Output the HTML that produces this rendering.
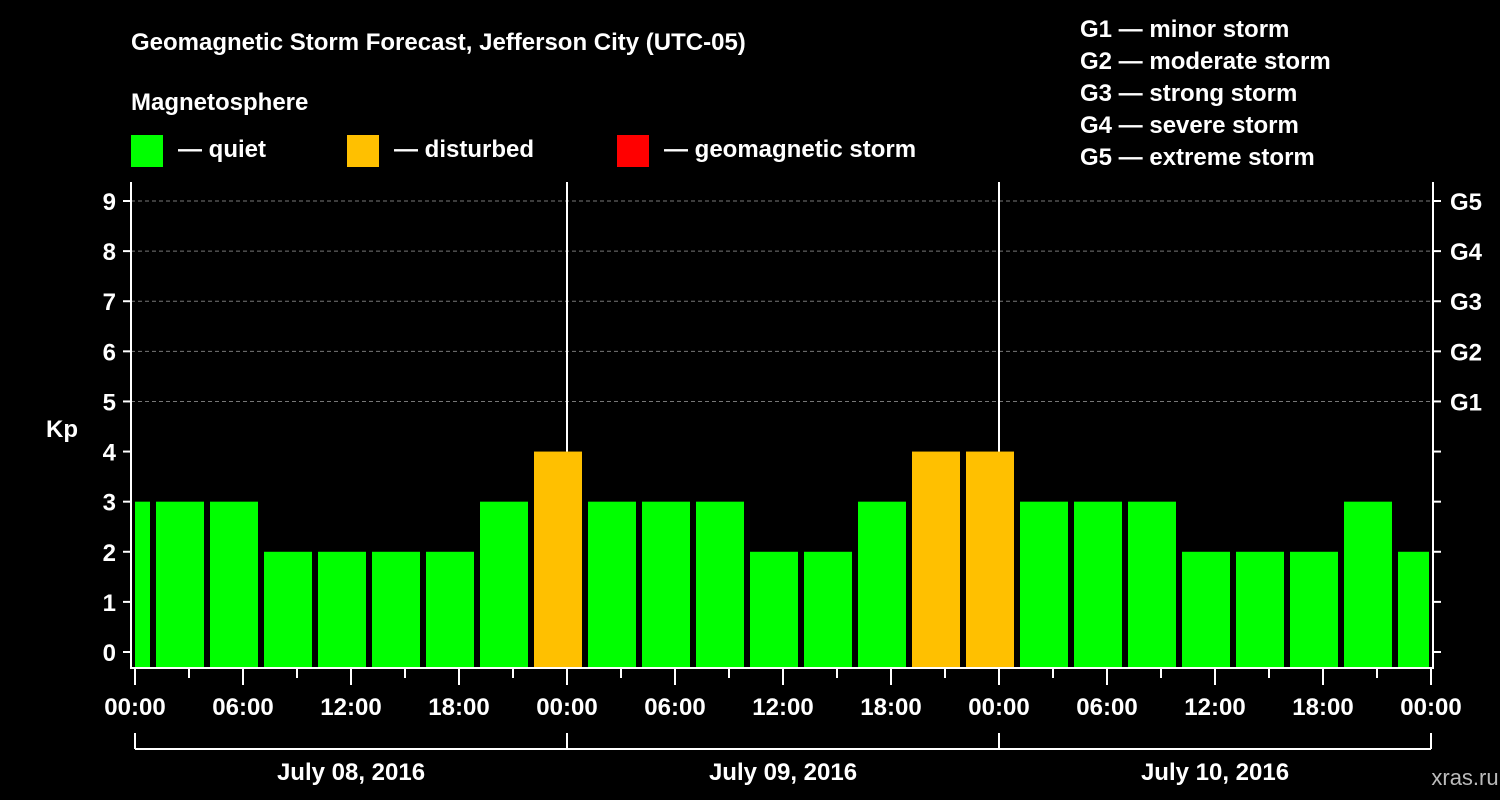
<!DOCTYPE html>
<html><head><meta charset="utf-8"><style>
html,body{margin:0;padding:0;background:#000;}
svg{display:block;font-family:"Liberation Sans",Arial,sans-serif;font-weight:bold;}
</style></head><body>
<svg id="chart" width="1500" height="800" viewBox="0 0 1500 800">
<rect x="0" y="0" width="1500" height="800" fill="#000"/>
<text x="131" y="50" fill="#fff" font-size="24">Geomagnetic Storm Forecast, Jefferson City (UTC-05)</text>
<text x="131" y="110" fill="#fff" font-size="24">Magnetosphere</text>
<g><rect x="131" y="135" width="32" height="32" fill="#00ff00"/><text x="178" y="157" fill="#fff" font-size="24">— quiet</text></g>
<g><rect x="347" y="135" width="32" height="32" fill="#ffc000"/><text x="394" y="157" fill="#fff" font-size="24">— disturbed</text></g>
<g><rect x="617" y="135" width="32" height="32" fill="#ff0000"/><text x="664" y="157" fill="#fff" font-size="24">— geomagnetic storm</text></g>
<g fill="#fff" font-size="24">
<text x="1080" y="37">G1 — minor storm</text>
<text x="1080" y="69">G2 — moderate storm</text>
<text x="1080" y="101">G3 — strong storm</text>
<text x="1080" y="133">G4 — severe storm</text>
<text x="1080" y="165">G5 — extreme storm</text>
</g>
<text x="62" y="437" fill="#fff" font-size="24" text-anchor="middle">Kp</text>
<text x="1465" y="785" fill="#bbb" font-size="22" font-weight="normal" text-anchor="middle">xras.ru</text>
<defs><clipPath id="pc"><rect x="135" y="182" width="1294" height="486"/></clipPath></defs>
<g id="grid"></g>
<g id="bars" clip-path="url(#pc)"></g>
<g id="axes"></g>
</svg>
<script>
const kpValues = [3,3,3,2,2,2,2,3,4,3,3,3,2,2,3,4,4,3,3,3,2,2,2,3,2];
const barStartHours = [-2,1,4,7,10,13,16,19,22,25,28,31,34,37,40,43,46,49,52,55,58,61,64,67,70];
const yTicks = [0,1,2,3,4,5,6,7,8,9];
const gLabels = ["G1","G2","G3","G4","G5"];
const gLevels = [5,6,7,8,9];
const xTickLabels = ["00:00","06:00","12:00","18:00","00:00","06:00","12:00","18:00","00:00","06:00","12:00","18:00","00:00"];
const dayLabels = ["July 08, 2016","July 09, 2016","July 10, 2016"];

const NS="http://www.w3.org/2000/svg";
const x = h => 135 + h*18;
const y = v => 652 - v*50.11;
const plotL=131, plotR=1433, plotT=182, plotB=668;
function mk(tag, attrs, parent){const e=document.createElementNS(NS,tag);for(const k in attrs)e.setAttribute(k,attrs[k]);parent.appendChild(e);return e;}
const grid=document.getElementById('grid'), bars=document.getElementById('bars'), axes=document.getElementById('axes');

gLevels.forEach(v=>{
  const l=mk('line',{x1:plotL,x2:plotR,y1:y(v),y2:y(v),stroke:'#777','stroke-dasharray':'4,3','stroke-width':1},grid);
  
  
});
[1,2].forEach(d=>{
  const l=mk('line',{x1:x(24*d),x2:x(24*d),y1:plotT,y2:plotB,stroke:'#fff','stroke-width':2},grid);
  
  
});
kpValues.forEach((v,i)=>{
  const c = v>=5?'#ff0000':(v>=4?'#ffc000':'#00ff00');
  const h0=barStartHours[i];
  const r=mk('rect',{x:x(h0)+3,y:y(v),width:48,height:plotB-y(v),fill:c},bars);
  
  
});
// frame
const fr=mk('path',{d:`M${plotL},${plotT} V${plotB} H${plotR} V${plotT}`,fill:'none',stroke:'#fff','stroke-width':2},axes);


yTicks.forEach(v=>{
  mk('line',{x1:plotL-8,x2:plotL,y1:y(v),y2:y(v),stroke:'#fff','stroke-width':2},axes);
  mk('line',{x1:plotR,x2:plotR+8,y1:y(v),y2:y(v),stroke:'#fff','stroke-width':2},axes);
  const t=mk('text',{x:116,y:y(v)+9,fill:'#fff','font-size':24,'text-anchor':'end'},axes);
  t.textContent=v;
  
  
});
gLabels.forEach((g,i)=>{
  const t=mk('text',{x:1450,y:y(gLevels[i])+9,fill:'#fff','font-size':24},axes);
  t.textContent=g;
  
  
});
for(let h=0;h<=72;h+=3){
  const major=h%6===0;
  mk('line',{x1:x(h),x2:x(h),y1:plotB,y2:plotB+(major?17:10),stroke:'#fff','stroke-width':2},axes);
}
xTickLabels.forEach((s,i)=>{
  const t=mk('text',{x:x(i*6),y:715,fill:'#fff','font-size':24,'text-anchor':'middle'},axes);
  t.textContent=s;
  
  
});
mk('line',{x1:x(0),x2:x(72),y1:749,y2:749,stroke:'#fff','stroke-width':2},axes);
for(let d=0;d<=3;d++) mk('line',{x1:x(24*d),x2:x(24*d),y1:733,y2:749,stroke:'#fff','stroke-width':2},axes);
dayLabels.forEach((s,i)=>{
  const t=mk('text',{x:x(24*i+12),y:780,fill:'#fff','font-size':24,'text-anchor':'middle'},axes);
  t.textContent=s;
  
  
});
</script>
</body></html>
